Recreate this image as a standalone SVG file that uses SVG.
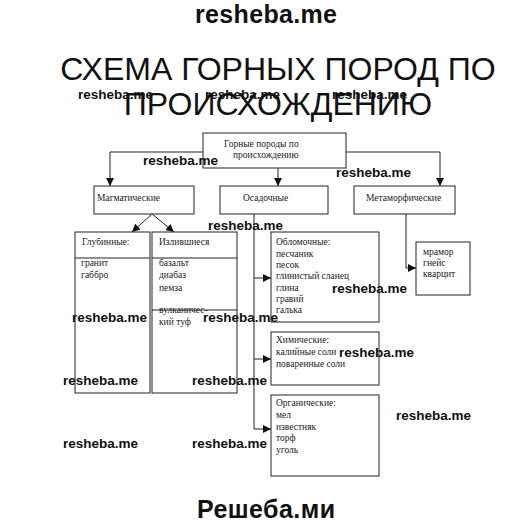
<svg xmlns="http://www.w3.org/2000/svg" width="530" height="523" viewBox="0 0 530 523">
<style>
.bx{fill:#fff;stroke:#222;stroke-width:1}
.ln{fill:none;stroke:#222;stroke-width:1}
.t{font-family:"Liberation Serif","Times New Roman",serif;font-size:9.5px;fill:#222}
.ti{font-family:"Liberation Sans",Arial,sans-serif;font-size:32px;fill:#111}
.wm{font-family:"Liberation Sans",Arial,sans-serif;font-weight:bold;font-size:13.5px;fill:#111}
.wb{font-family:"Liberation Sans",Arial,sans-serif;font-weight:bold;font-size:25px;fill:#111}
</style>
<defs>
<marker id="ar" viewBox="0 0 10 10" refX="10" refY="5" markerWidth="8" markerHeight="8" markerUnits="userSpaceOnUse" orient="auto">
<path d="M0,0 L10,5 L0,10 Z" fill="#111"/>
</marker>
</defs>
<rect width="530" height="523" fill="#fff"/>
<g id="title">
<text class="ti" x="278" y="80" text-anchor="middle">СХЕМА ГОРНЫХ ПОРОД ПО</text>
<text class="ti" x="278" y="115" text-anchor="middle">ПРОИСХОЖДЕНИЮ</text>
</g>
<g id="connectors">
<polyline class="ln" points="203,152 110,152 110,186" marker-end="url(#ar)"/>
<polyline class="ln" points="346,152 440,152 440,186" marker-end="url(#ar)"/>
<line class="ln" x1="278" y1="168" x2="278" y2="186" marker-end="url(#ar)"/>
<line class="ln" x1="152" y1="214" x2="132" y2="232" marker-end="url(#ar)"/>
<line class="ln" x1="152" y1="214" x2="174" y2="232" marker-end="url(#ar)"/>
<polyline class="ln" points="254,214 254,429 271,429" marker-end="url(#ar)"/>
<line class="ln" x1="254" y1="278" x2="271" y2="278" marker-end="url(#ar)"/>
<line class="ln" x1="254" y1="359" x2="271" y2="359" marker-end="url(#ar)"/>
<polyline class="ln" points="406,214 406,268 416,268" marker-end="url(#ar)"/>
</g>
<g id="root">
<rect class="bx" x="203" y="133" width="143" height="35"/>
<text class="t" x="224" y="147">Горные породы по</text>
<text class="t" x="233" y="158">происхождению</text>
</g>
<g id="magmatic">
<rect class="bx" x="94" y="186" width="100" height="28"/>
<text class="t" x="97" y="201">Магматические</text>
</g>
<g id="sedimentary">
<rect class="bx" x="220" y="186" width="108" height="28"/>
<text class="t" x="243" y="201">Осадочные</text>
</g>
<g id="metamorphic">
<rect class="bx" x="354" y="186" width="101" height="28"/>
<text class="t" x="366" y="201">Метаморфические</text>
</g>
<g id="deep">
<rect class="bx" x="75" y="232" width="75" height="161"/>
<line class="ln" x1="75" y1="258" x2="150" y2="258"/>
<text class="t" x="82" y="245">Глубинные:</text>
<text class="t" x="81" y="266">гранит</text>
<text class="t" x="81" y="278">габбро</text>
</g>
<g id="effusive">
<rect class="bx" x="152" y="232" width="85" height="161"/>
<line class="ln" x1="152" y1="258" x2="237" y2="258"/>
<line class="ln" x1="152" y1="310" x2="237" y2="310"/>
<text class="t" x="159" y="245">Излившиеся</text>
<text class="t" x="159" y="266">базальт</text>
<text class="t" x="159" y="278">диабаз</text>
<text class="t" x="159" y="291">пемза</text>
<text class="t" x="159" y="313">вулканичес-</text>
<text class="t" x="159" y="325">кий туф</text>
</g>
<g id="clastic">
<rect class="bx" x="271" y="232" width="108" height="90"/>
<text class="t" x="276" y="245">Обломочные:</text>
<text class="t" x="276" y="256.5">песчаник</text>
<text class="t" x="276" y="268">песок</text>
<text class="t" x="276" y="279">глинистый сланец</text>
<text class="t" x="276" y="290.5">глина</text>
<text class="t" x="276" y="302">гравий</text>
<text class="t" x="276" y="313">галька</text>
</g>
<g id="chemical">
<rect class="bx" x="271" y="332" width="108" height="53"/>
<text class="t" x="276" y="343">Химические:</text>
<text class="t" x="276" y="355">калийные соли</text>
<text class="t" x="276" y="367">поваренные соли</text>
</g>
<g id="organic">
<rect class="bx" x="271" y="395" width="108" height="81"/>
<text class="t" x="276" y="406">Органические:</text>
<text class="t" x="276" y="418">мел</text>
<text class="t" x="276" y="429.5">известняк</text>
<text class="t" x="276" y="441">торф</text>
<text class="t" x="276" y="452.5">уголь</text>
</g>
<g id="metamorphic-rocks">
<rect class="bx" x="416" y="242" width="54" height="53"/>
<text class="t" x="423" y="255">мрамор</text>
<text class="t" x="423" y="266">гнейс</text>
<text class="t" x="423" y="277">кварцит</text>
</g>
<g id="watermarks">
<text class="wb" x="195" y="23" textLength="142">resheba.me</text>
<text class="wm" x="78" y="99" textLength="75">resheba.me</text>
<text class="wm" x="205" y="99" textLength="75">resheba.me</text>
<text class="wm" x="332" y="99" textLength="75">resheba.me</text>
<text class="wm" x="143" y="165" textLength="75">resheba.me</text>
<text class="wm" x="336" y="177" textLength="75">resheba.me</text>
<text class="wm" x="208" y="230" textLength="75">resheba.me</text>
<text class="wm" x="332" y="293" textLength="75">resheba.me</text>
<text class="wm" x="72" y="322" textLength="75">resheba.me</text>
<text class="wm" x="203" y="322" textLength="75">resheba.me</text>
<text class="wm" x="339" y="357" textLength="75">resheba.me</text>
<text class="wm" x="63" y="385" textLength="75">resheba.me</text>
<text class="wm" x="192" y="385" textLength="75">resheba.me</text>
<text class="wm" x="396" y="420" textLength="75">resheba.me</text>
<text class="wm" x="63" y="448" textLength="75">resheba.me</text>
<text class="wm" x="192" y="448" textLength="75">resheba.me</text>
<text class="wb" x="197" y="518" textLength="138">Решеба.ми</text>
</g>
</svg>
